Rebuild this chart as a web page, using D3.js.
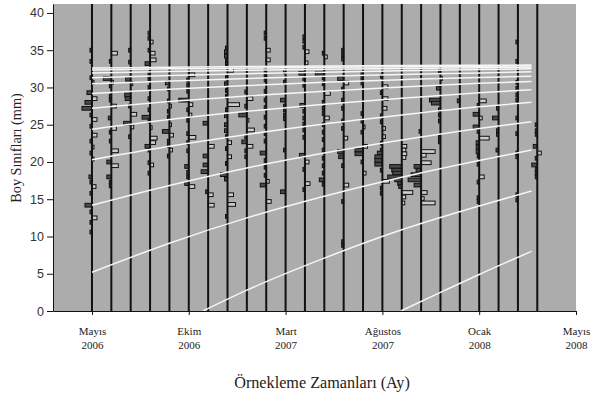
<!DOCTYPE html>
<html>
<head>
<meta charset="utf-8">
<script src="https://cdn.jsdelivr.net/npm/d3@7"></script>
<style>
    body { margin: 0; background: #fff; }
</style>
</head>
<body>
<script>
const width = 593;
const height = 394;
const color = {
    plotBg: "#acacac",
    sampleLine: "#111",
    barStroke: "#111",
    negFill: "#4a4a4a",
    posFill: "#cdcdcd",
    curve: "#f6f6f6",
    text: "#222"
};

// y axis (boy sınıfı, mm)
const yTicks = [0, 5, 10, 15, 20, 25, 30, 35, 40];
// x axis: örnekleme sırası
const xTickPos = [0, 5, 10, 15, 20, 25];
const xTickMonths = ["Mayıs", "Ekim", "Mart", "Ağustos", "Ocak", "Mayıs"];
const xTickYears = ["2006", "2006", "2007", "2007", "2008", "2008"];

// restructured length frequencies, one list per sample: [boy, skor]
// negative = bar to the left (black), positive = bar to the right (white)
const samples = [
    [[35.0,-2],[33.5,-2],[31.3,-2],[30.7,2],[29.3,-5],[28.5,5],[28.0,-7],[27.2,-10],[26.3,-2],[25.7,5],[24.8,-2],[23.6,5],[22.8,-2],[22.0,2],[21.2,-2],[20.4,2],[18.0,-3],[17.3,-2],[16.7,4],[15.8,-2],[14.2,-7],[13.3,-2],[12.5,5],[11.9,-2],[10.6,-2]],
    [[34.6,6],[33.5,-2],[31.2,-8],[30.7,2],[30.2,-2],[28.8,-2],[28.3,-2],[27.5,5],[25.9,-3],[24.5,5],[24.0,-2],[22.8,-2],[21.5,7],[20.0,-4.5],[19.5,7],[18.0,-4.5],[17.3,-2],[16.8,-2]],
    [[35.0,-2],[33.4,-2],[31.1,-5],[30.5,2],[29.0,-6],[28.5,-5.5],[27.5,-2],[26.4,6],[25.2,-7],[24.7,3],[23.4,-2]],
    [[37.3,-2],[36.6,-2],[36.1,3],[35.0,-2],[34.6,5],[33.7,6],[33.2,-5],[31.9,-2],[31.2,-2],[30.0,-2],[28.5,-2],[27.0,-2],[26.0,-8],[25.5,-2],[24.6,2],[23.2,7],[22.6,5.5],[22.1,-5],[21.6,-2],[19.9,-2],[19.6,3.5],[18.5,-2]],
    [[30.6,-4],[29.8,-2],[28.2,-2],[27.5,2],[26.8,-2],[26.0,-2],[25.0,2],[24.1,-7],[23.6,4],[22.8,-2],[22.2,-2],[21.6,3],[20.8,-2]],
    [[31.7,6],[31.0,-2],[30.3,-2],[29.5,-2],[28.3,-10],[27.7,4],[27.0,-2],[26.3,3],[25.6,-2],[23.8,-2],[23.3,7],[22.6,-2],[21.5,-2],[19.4,-4],[18.6,-2],[18.0,-2],[17.1,-4],[16.7,6]],
    [[25.2,-5],[22.1,6],[20.8,-5],[19.6,-5],[18.7,-7],[16.0,-2.5],[15.6,5],[14.2,6]],
    [[35.3,-2],[34.8,-3],[34.2,-3],[33.6,-2],[33.2,-2],[32.3,6],[31.3,-2],[30.5,-3],[29.6,-2],[28.8,-2],[27.7,12],[27.0,-2],[26.2,-3],[25.0,-3],[24.2,-3],[23.4,-2],[22.6,4],[21.8,-2],[20.7,4],[19.8,-2],[18.3,-7],[17.7,-3],[15.6,6],[14.3,8],[12.7,-2]],
    [[29.4,-2],[28.5,6],[27.5,-2],[26.3,-8],[25.6,2],[24.3,7.5],[23.4,-2],[22.7,-5],[22.1,6],[21.5,-2],[20.7,-2]],
    [[37.3,-2],[36.6,-2],[35.0,4],[33.7,4],[32.4,-2],[31.7,-2],[31.0,-2],[29.5,-2],[28.3,-2],[27.3,-2],[26.0,-2],[24.8,-2],[23.8,-2],[22.8,-2],[21.2,-6],[20.2,-2],[19.3,-2],[18.2,-2],[17.4,3],[16.9,-6],[14.7,5]],
    [[32.1,-2],[30.7,-2],[28.3,-5],[27.5,-2],[27.0,-2],[26.3,-2],[25.8,-2],[21.6,-2],[16.0,-5]],
    [[36.8,-2],[36.2,-2],[35.4,-2],[34.8,4],[33.3,3],[31.9,-6],[31.2,-2],[30.3,-2],[27.6,-5],[26.8,-2],[25.9,-2],[25.1,-2],[24.3,-2],[23.3,-2],[20.9,-5.5],[20.0,4],[19.0,-2],[17.1,5],[16.3,-2]],
    [[34.6,-2],[34.1,3],[31.9,-9],[31.3,-2],[30.5,-2],[29.2,6],[28.0,-2],[27.2,-2],[26.5,-2],[25.9,5],[25.0,-2],[24.0,-2],[23.0,-2],[21.6,-2],[20.5,-2],[19.5,-2],[18.5,-2],[17.6,-5],[17.0,-2]],
    [[35.0,-2],[34.4,-2],[33.8,-2],[31.2,-6],[30.6,5],[29.8,-2],[28.3,-2],[27.2,-2],[25.5,-2],[24.5,-2],[23.2,4],[21.4,-6],[20.7,-5],[19.5,-2],[16.9,5],[14.7,-2],[9.3,-2],[8.8,-2]],
    [[31.9,-2],[31.2,-2],[30.6,-2],[26.5,-2],[25.5,-2],[24.7,2],[24.0,-2],[22.1,4.5],[21.6,-8],[21.1,-8],[20.0,-2],[18.5,3]],
    [[31.5,-2],[30.1,5.5],[29.3,-2],[28.5,5.5],[27.2,4.5],[26.2,-2],[25.4,-2],[24.5,3],[23.4,3],[22.5,-2],[21.6,-2],[21.2,-5],[20.7,-7.5],[20.2,-7.5],[19.7,-7.5],[18.9,-2],[17.4,7],[16.5,-2],[15.8,-2]],
    [[22.1,5],[21.6,4],[21.1,5],[20.6,4],[19.4,-12],[18.9,-10],[18.5,-9],[18.0,-14],[17.6,-7],[17.1,-4],[16.7,-3],[15.9,11],[15.3,4],[14.5,3]],
    [[24.1,-2],[21.4,14],[20.9,5],[19.9,10],[19.4,-7],[18.9,-5],[18.3,-10],[17.6,-13],[16.9,-7],[15.9,6],[15.1,3],[14.5,14]],
    [[32.1,-2],[31.2,2],[29.9,-4],[28.3,-11],[27.9,-9],[27.0,-2],[26.3,-2],[25.5,-2],[23.3,-2],[22.7,-2]],
    [[28.2,-2.5]],
    [[28.2,7],[27.6,-2],[26.4,-6],[25.9,3],[24.7,-6],[24.1,-2],[23.2,10],[22.6,-3],[22.0,-3],[21.4,-3],[20.8,-2],[19.7,-2],[18.0,5],[17.3,-2],[15.2,-2],[14.7,-2]],
    [[27.2,-2],[25.9,-6],[24.2,-2],[23.7,-2],[21.6,-2.5]],
    [[36.1,-2],[33.5,-2],[30.7,-2],[29.9,-2],[29.0,-2],[28.3,-2],[25.9,-2],[23.8,-2],[21.2,-2],[20.7,-2],[15.6,-2],[14.9,-2]],
    [[25.0,-2],[24.2,-2],[23.7,-2],[22.1,-4],[21.2,4],[20.5,-2],[19.6,-5.5],[19.0,-2],[18.5,-2],[18.0,-2]]
];

// growth curves (one per cohort): [sample position, boy]
const growthCurves = [
    [[15.95,0],[18,2.5],[20,4.9],[22.7,8.0]],
    [[5.73,0],[8,2.8],[12,7.1],[16,10.9],[20,14.1],[22.7,16.1]],
    [[0,5.2],[4,9.1],[8,12.5],[12,15.4],[16,17.95],[20,20.2],[22.7,21.6]],
    [[0,14.2],[4,16.85],[8,19.2],[12,21.2],[16,22.95],[20,24.5],[22.7,25.4]],
    [[0,20.3],[4,22.1],[8,23.7],[12,25.1],[16,26.3],[20,27.4],[22.7,28.0]],
    [[0,24.4],[4,25.7],[8,26.8],[12,27.75],[16,28.55],[20,29.3],[22.7,29.7]],
    [[0,27.2],[4,28.1],[8,28.85],[12,29.5],[16,30.05],[20,30.55],[22.7,30.8]],
    [[0,29.2],[4,29.75],[8,30.25],[12,30.7],[16,31.05],[20,31.35],[22.7,31.5]],
    [[0,30.5],[4,30.85],[8,31.2],[12,31.5],[16,31.75],[20,31.95],[22.7,32.1]],
    [[0,31.3],[4,31.6],[8,31.85],[12,32.05],[16,32.25],[20,32.4],[22.7,32.5]],
    [[0,31.95],[4,32.15],[8,32.3],[12,32.45],[16,32.55],[20,32.65],[22.7,32.7]],
    [[0,32.35],[4,32.5],[8,32.6],[12,32.7],[16,32.78],[20,32.85],[22.7,32.9]],
    [[0,32.6],[4,32.7],[8,32.8],[12,32.87],[16,32.93],[20,32.98],[22.7,33.0]]
];
const classWidth = 0.5;

let svg = d3.select("body").append("svg")
    .attr("width", width)
    .attr("height", height)

let x = d3.scaleLinear()
    .domain([-2.013, 25])
    .range([53, 576]);

let y = d3.scaleLinear()
    .domain([0, 41.2])
    .range([311, 4]);

// skor -> bar length in px
let barLen = d3.scaleLinear()
    .domain([0, 10])
    .range([0, 10]);

svg.append("rect")
    .attr("x", x.range()[0])
    .attr("y", y.range()[1])
    .attr("width", x.range()[1] - x.range()[0])
    .attr("height", y.range()[0] - y.range()[1])
    .attr("fill", color.plotBg)

let barG = svg.append("g").attr("id", "bars")

samples.forEach(function (s, i) {
    barG.selectAll(null)
        .data(s)
        .enter()
        .append("rect")
        .attr("x", d => d[1] < 0 ? x(i) - barLen(-d[1]) : x(i))
        .attr("y", d => y(d[0] + classWidth / 2))
        .attr("width", d => barLen(Math.abs(d[1])))
        .attr("height", d => y(d[0] - classWidth / 2) - y(d[0] + classWidth / 2))
        .attr("fill", d => d[1] < 0 ? color.negFill : color.posFill)
        .attr("stroke", color.barStroke)
        .attr("stroke-width", 1)
});

svg.append("g")
    .selectAll("line")
    .data(samples)
    .enter()
    .append("line")
    .attr("x1", (d, i) => x(i))
    .attr("x2", (d, i) => x(i))
    .attr("y1", y.range()[0])
    .attr("y2", y.range()[1])
    .attr("stroke", color.sampleLine)
    .attr("stroke-width", 2)

let line = d3.line()
    .x(d => x(d[0]))
    .y(d => y(d[1]))
    .curve(d3.curveMonotoneX)

svg.append("g")
    .selectAll("path")
    .data(growthCurves)
    .enter()
    .append("path")
    .attr("d", line)
    .attr("fill", "none")
    .attr("stroke", color.curve)
    .attr("stroke-width", 1.5)

// axes
let yAxis = svg.append("g")
    .attr("transform", "translate(" + x.range()[0] + ",0)")
    .call(d3.axisLeft(y).tickValues(yTicks).tickSize(6).tickSizeOuter(0).tickPadding(3))

yAxis.selectAll("text")
    .attr("font-family", "'Liberation Sans', Arial, sans-serif")
    .attr("font-size", 12.5)
    .attr("fill", "#333")

let xAxis = svg.append("g")
    .attr("transform", "translate(0," + y.range()[0] + ")")
    .call(d3.axisBottom(x).tickValues(xTickPos).tickSize(4).tickSizeOuter(0).tickFormat(""))

xAxis.selectAll(".tick").each(function (d, i) {
    let t = d3.select(this).append("text")
        .attr("fill", color.text)
        .attr("font-family", "'Liberation Serif', 'Times New Roman', serif")
        .attr("font-size", 11)
        .attr("text-anchor", "middle")
    t.append("tspan").attr("x", 0).attr("y", 23.5).text(xTickMonths[i])
    t.append("tspan").attr("x", 0).attr("y", 38).text(xTickYears[i])
})

svg.selectAll(".domain, .tick line").attr("stroke", "#111")

svg.append("text")
    .attr("x", 322)
    .attr("y", 388)
    .attr("text-anchor", "middle")
    .attr("font-family", "'Liberation Serif', 'Times New Roman', serif")
    .attr("font-size", 16.2)
    .attr("fill", color.text)
    .text("Örnekleme Zamanları (Ay)")

svg.append("text")
    .attr("transform", "translate(21,148)rotate(-90)")
    .attr("text-anchor", "middle")
    .attr("font-family", "'Liberation Serif', 'Times New Roman', serif")
    .attr("font-size", 14.3)
    .attr("fill", color.text)
    .text("Boy Sınıfları (mm)")
</script>
</body>
</html>
